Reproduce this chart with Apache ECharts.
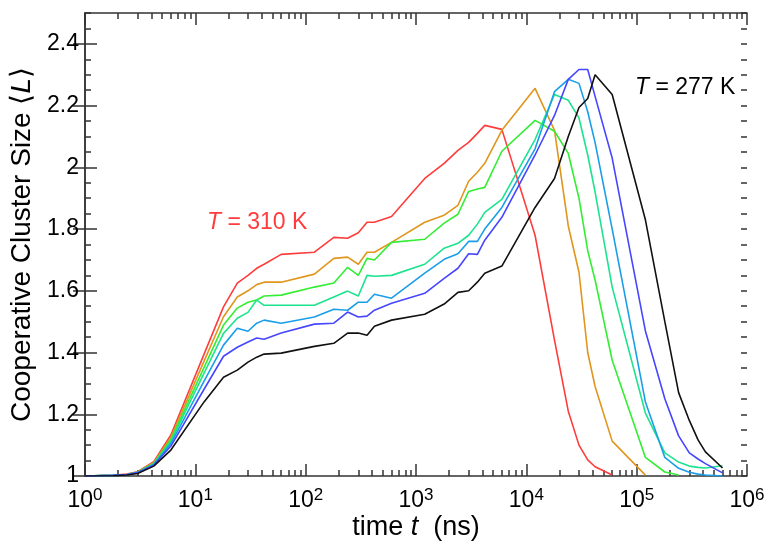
<!DOCTYPE html>
<html>
<head>
<meta charset="utf-8">
<script src="https://cdn.jsdelivr.net/npm/echarts@6/dist/echarts.min.js"></script>
<style>html,body{margin:0;padding:0;background:#fff;}#c{width:767px;height:543px;}</style>
</head>
<body>
<div id="c"></div>
<script>
// ---- data ----
const times = [1, 1.8, 2.4, 3, 4.2, 6, 12, 18, 24, 30, 36, 42, 60, 120, 180, 240, 300, 360, 420, 600,
  1200, 1800, 2400, 3000, 3600, 4200, 6000, 12000, 18000, 24000, 30000, 36000, 42000, 60000,
  120000, 180000, 240000, 300000, 360000, 420000, 600000];

const curveRed = [1.000, 1.002, 1.006, 1.014, 1.046, 1.133, 1.395, 1.548, 1.625, 1.650, 1.673, 1.686, 1.718, 1.725, 1.773, 1.770, 1.788, 1.822, 1.822, 1.841,
  1.964, 2.013, 2.055, 2.081, 2.110, 2.136, 2.123, 1.780, 1.440, 1.210, 1.100, 1.052, 1.030, 1.003,
  null, null, null, null, null, null, null];
const curveOrange = [1.000, 1.002, 1.005, 1.013, 1.043, 1.125, 1.372, 1.516, 1.580, 1.600, 1.620, 1.628, 1.628, 1.654, 1.705, 1.709, 1.686, 1.725, 1.725, 1.757,
  1.822, 1.845, 1.877, 1.955, 1.984, 2.013, 2.120, 2.256, 2.120, 1.810, 1.660, 1.400, 1.290, 1.113,
  1.003, null, null, null, null, null, null];
const curveGreen = [1.000, 1.002, 1.005, 1.012, 1.041, 1.118, 1.352, 1.489, 1.544, 1.563, 1.570, 1.583, 1.586, 1.612, 1.625, 1.676, 1.650, 1.705, 1.700, 1.757,
  1.767, 1.819, 1.848, 1.922, 1.930, 1.935, 2.052, 2.152, 2.117, 2.045, 1.900, 1.730, 1.635, 1.375,
  1.060, 1.013, 1.003, null, null, null, null];
const curveTeal = [1.000, 1.002, 1.005, 1.012, 1.039, 1.112, 1.333, 1.462, 1.511, 1.530, 1.570, 1.553, 1.553, 1.553, 1.580, 1.599, 1.583, 1.650, 1.647, 1.650,
  1.686, 1.738, 1.754, 1.780, 1.816, 1.854, 1.896, 2.090, 2.236, 2.217, 2.160, 2.040, 1.920, 1.612,
  1.204, 1.075, 1.045, 1.032, 1.028, 1.026, 1.033];
const curveSky = [1.000, 1.002, 1.005, 1.011, 1.037, 1.105, 1.307, 1.424, 1.479, 1.469, 1.495, 1.505, 1.495, 1.515, 1.540, 1.537, 1.563, 1.563, 1.589, 1.576,
  1.657, 1.702, 1.720, 1.760, 1.760, 1.800, 1.870, 2.060, 2.245, 2.285, 2.272, 2.180, 2.080, 1.800,
  1.240, 1.060, 1.025, 1.012, 1.006, 1.003, 1.000];
const curveBlue = [1.000, 1.002, 1.004, 1.011, 1.035, 1.097, 1.281, 1.388, 1.417, 1.434, 1.447, 1.443, 1.463, 1.492, 1.495, 1.531, 1.515, 1.518, 1.537, 1.560,
  1.592, 1.640, 1.673, 1.720, 1.718, 1.764, 1.838, 2.040, 2.168, 2.285, 2.317, 2.317, 2.230, 2.030,
  1.470, 1.250, 1.130, 1.075, 1.055, 1.040, 1.010];
const curveBlack = [1.000, 1.001, 1.003, 1.008, 1.032, 1.084, 1.240, 1.320, 1.343, 1.369, 1.385, 1.395, 1.398, 1.420, 1.430, 1.463, 1.463, 1.456, 1.485, 1.505,
  1.524, 1.557, 1.595, 1.600, 1.628, 1.657, 1.680, 1.870, 1.964, 2.100, 2.194, 2.223, 2.300, 2.236,
  1.830, 1.500, 1.270, 1.180, 1.117, 1.078, 1.026];

const xTickExponents = [0, 1, 2, 3, 4, 5, 6];
const yTickValues = [1, 1.2, 1.4, 1.6, 1.8, 2, 2.2, 2.4];
const annotations = ['{i|T} = 310 K', '{i|T} = 277 K'];

// ---- chart ----
const FONT = '"Liberation Sans", Arial, Helvetica, sans-serif';
const AX = '#333';
const curves = [
  { name: 'red', data: curveRed, color: '#ff3c3c' },
  { name: 'orange', data: curveOrange, color: '#e0961c' },
  { name: 'green', data: curveGreen, color: '#33ee33' },
  { name: 'teal', data: curveTeal, color: '#1ee38e' },
  { name: 'sky', data: curveSky, color: '#1a9ee8' },
  { name: 'blue', data: curveBlue, color: '#4646ff' },
  { name: 'black', data: curveBlack, color: '#111111' }
];

const minorLog = [];
for (let n = 0; n < 6; n++) for (let k = 2; k <= 9; k++) minorLog.push(n + Math.log10(k));
const majorLog = xTickExponents.slice();

const chart = echarts.init(document.getElementById('c'), null, { renderer: 'canvas' });

const noLabel = { show: false };
const baseTick = (len, extra) => Object.assign({ show: true, inside: true, length: len, lineStyle: { color: AX, width: 1.5 } }, extra || {});

chart.setOption({
  animation: false,
  backgroundColor: '#fff',
  grid: { left: 85, right: 20, top: 13, bottom: 67, containLabel: false, outerBoundsMode: 'none' },
  xAxis: [
    {
      type: 'log', logBase: 10, min: 1, max: 1e6, interval: 1, position: 'bottom',
      axisLine: { show: true, lineStyle: { color: AX, width: 1.5 } },
      axisTick: baseTick(12),
      splitLine: { show: false },
      axisLabel: {
        margin: 11, color: '#000', fontFamily: FONT, fontSize: 23, lineHeight: 28,
        formatter: v => '10{sup|' + Math.round(Math.log10(v)) + '}',
        rich: { sup: { fontSize: 17, lineHeight: 17, verticalAlign: 'top', fontFamily: FONT, color: '#000' } }
      },
      name: 'time {i|t}  (ns)', nameLocation: 'middle', nameGap: 38, nameMoveOverlap: false,
      nameTextStyle: { fontSize: 27, color: '#000', fontFamily: FONT,
        rich: { i: { fontStyle: 'italic', fontSize: 27, fontFamily: FONT, color: '#000' } } }
    },
    { type: 'value', min: 0, max: 6, position: 'bottom', axisLine: { show: false },
      axisTick: baseTick(6, { customValues: minorLog }), axisLabel: noLabel, splitLine: { show: false } },
    { type: 'value', min: 0, max: 6, position: 'top', axisLine: { show: true, lineStyle: { color: AX, width: 1.5 } },
      axisTick: baseTick(12, { customValues: majorLog }), axisLabel: noLabel, splitLine: { show: false } },
    { type: 'value', min: 0, max: 6, position: 'top', axisLine: { show: false },
      axisTick: baseTick(6, { customValues: minorLog }), axisLabel: noLabel, splitLine: { show: false } }
  ],
  yAxis: [
    {
      type: 'value', min: 1, max: 2.5, interval: 0.2, position: 'left',
      axisLine: { show: true, lineStyle: { color: AX, width: 1.5 } },
      axisTick: baseTick(12, { customValues: yTickValues }),
      splitLine: { show: false },
      axisLabel: { customValues: yTickValues, margin: 6, color: '#000', fontFamily: FONT, fontSize: 23 },
      name: 'Cooperative Cluster Size \u27e8{i|L}\u27e9', nameLocation: 'middle', nameGap: 49, nameMoveOverlap: false,
      nameTextStyle: { fontSize: 28, color: '#000', fontFamily: FONT,
        rich: { i: { fontStyle: 'italic', fontSize: 28, fontFamily: FONT, color: '#000' } } }
    },
    { type: 'value', min: 1, max: 2.5, interval: 0.05, position: 'left', axisLine: { show: false },
      axisTick: baseTick(6), axisLabel: noLabel, splitLine: { show: false } },
    { type: 'value', min: 1, max: 2.5, interval: 0.2, position: 'right',
      axisLine: { show: true, lineStyle: { color: AX, width: 1.5 } },
      axisTick: baseTick(12, { customValues: yTickValues }), axisLabel: noLabel, splitLine: { show: false } },
    { type: 'value', min: 1, max: 2.5, interval: 0.05, position: 'right', axisLine: { show: false },
      axisTick: baseTick(6), axisLabel: noLabel, splitLine: { show: false } }
  ],
  series: curves.map(c => ({
    name: c.name, type: 'line', xAxisIndex: 0, yAxisIndex: 0,
    data: times.map((t, i) => [t, c.data[i]]),
    showSymbol: false, symbol: 'none', connectNulls: false, silent: true,
    lineStyle: { color: c.color, width: 1.6 }, itemStyle: { color: c.color }
  })),
  graphic: [
    { type: 'text', x: 207, y: 223, silent: true,
      style: { text: annotations[0], fill: '#ff3c3c', fontSize: 23, fontFamily: FONT, verticalAlign: 'middle',
        rich: { i: { fontStyle: 'italic', fontSize: 23, fontFamily: FONT, fill: '#ff3c3c' } } } },
    { type: 'text', x: 635, y: 88, silent: true,
      style: { text: annotations[1], fill: '#000', fontSize: 23, fontFamily: FONT, verticalAlign: 'middle',
        rich: { i: { fontStyle: 'italic', fontSize: 23, fontFamily: FONT, fill: '#000' } } } }
  ]
});
</script>
</body>
</html>
